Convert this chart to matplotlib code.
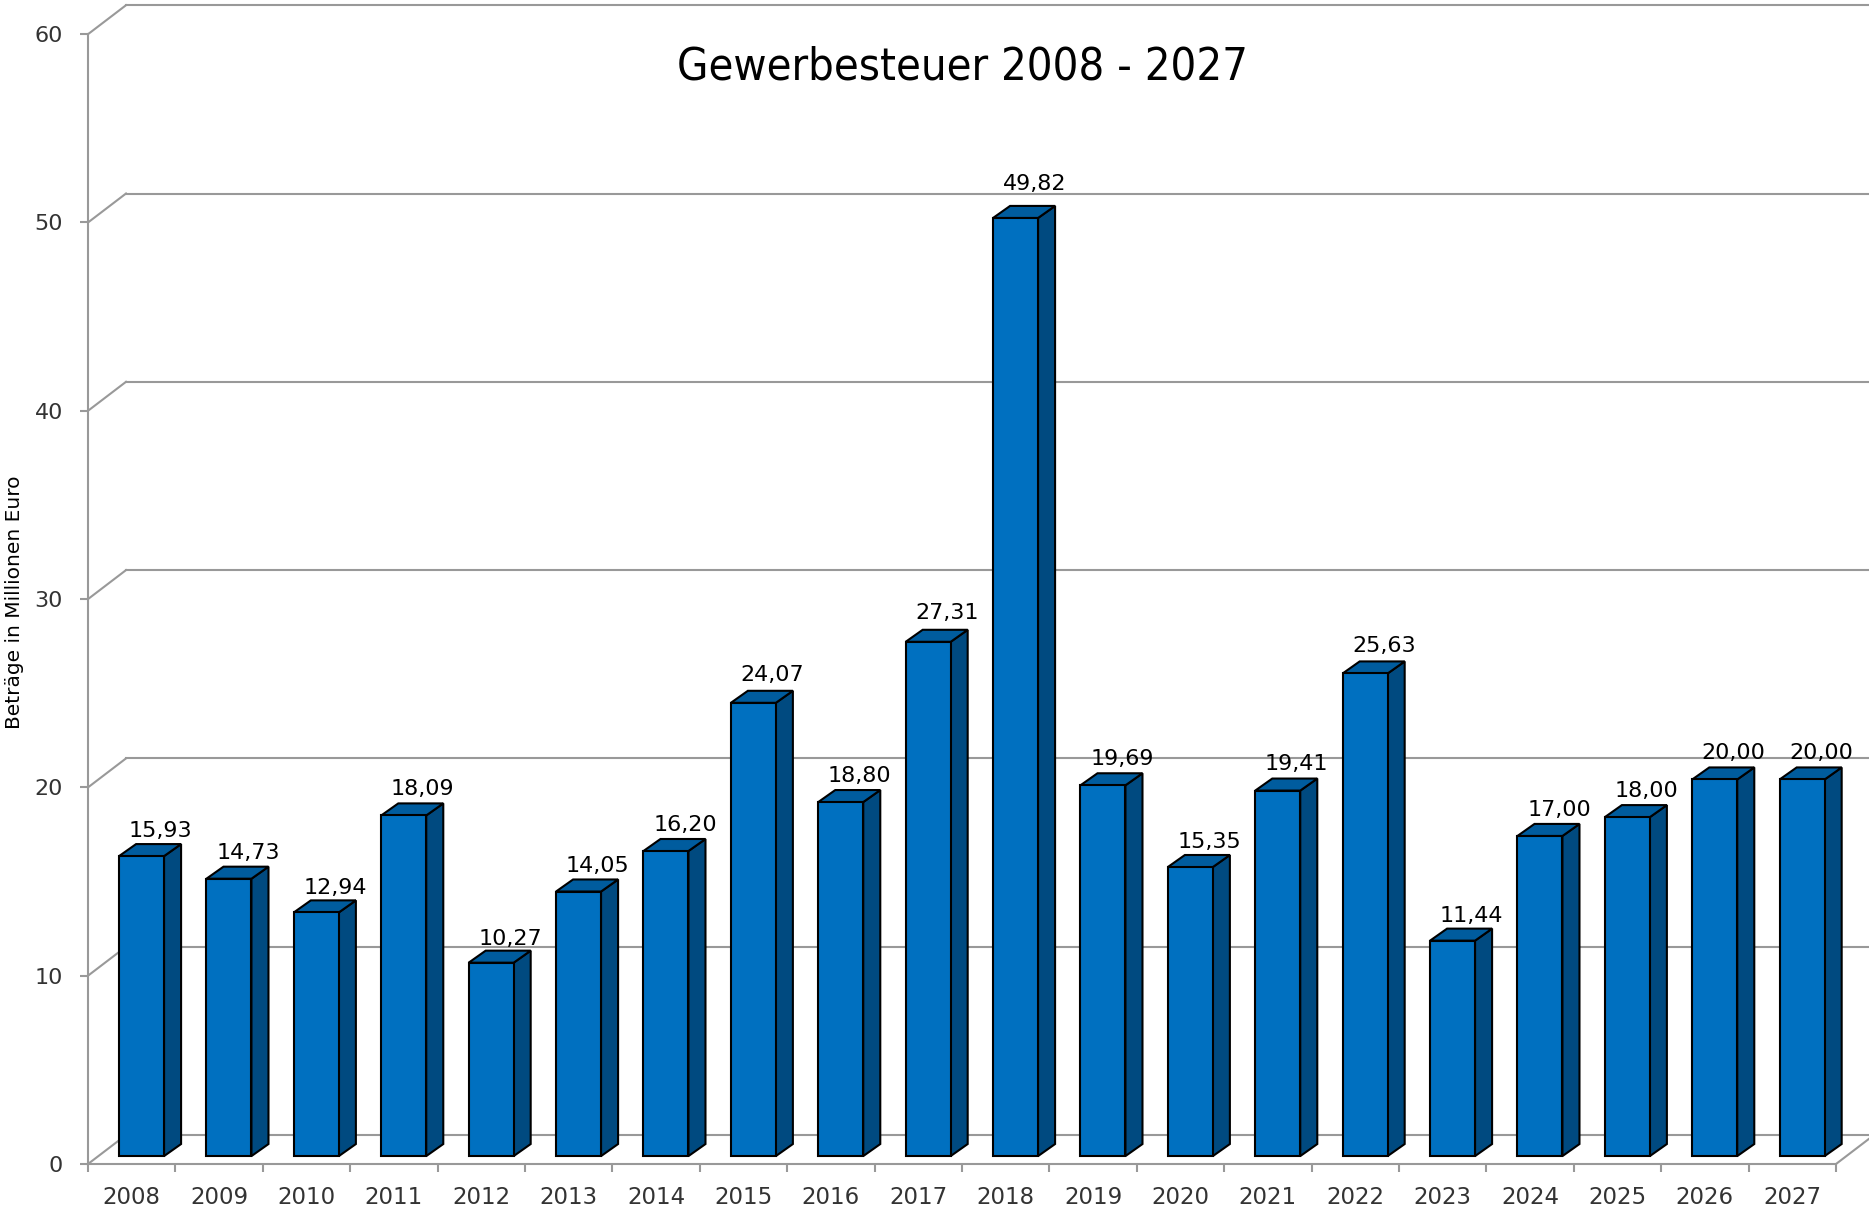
import matplotlib
matplotlib.use("Agg")
import matplotlib.pyplot as plt
from matplotlib.patches import Polygon

# data
years = [str(y) for y in range(2008, 2028)]
values = [15.93, 14.73, 12.94, 18.09, 10.27, 14.05, 16.20, 24.07, 18.80, 27.31,
          49.82, 19.69, 15.35, 19.41, 25.63, 11.44, 17.00, 18.00, 20.00, 20.00]
yticks = [0, 10, 20, 30, 40, 50, 60]

title = "Gewerbesteuer 2008 - 2027"
ylabel = "Beträge in Millionen Euro"

# colours
GRID = "#999999"
FRONT = "#0070C0"
SIDE = "#004A80"
TOP = "#005C9E"

# 3d-ish geometry in data units
DX, DY = 0.435, 1.54        # wall depth
OX, BW = 0.355, 0.515       # bar front-left offset and width
BASE = 0.42                 # bar base lift
BDX, BDY = 0.195, 0.64      # bar depth

W, H = 1869, 1212
fig = plt.figure(figsize=(W / 100, H / 100), dpi=100)
ax = fig.add_axes([0, 0, 1, 1])
ppc, ppu = 87.4, 18.83
ax.set_xlim(-88 / ppc, (W - 88) / ppc)
ax.set_ylim(-(H - 1164) / ppu, 1164 / ppu)

n = len(years)

# back wall gridlines and floor
for v in yticks:
    ax.plot([0, DX], [v, v + DY], color=GRID, lw=1.5, zorder=1)
    ax.plot([DX, n + DX + 1], [v + DY, v + DY], color=GRID, lw=1.5, zorder=1)
ax.plot([n, n + DX], [0, DY], color=GRID, lw=1.5, zorder=1)

# bars
for i, v in enumerate(values):
    x0 = i + OX
    b = BASE
    front = [(x0, b), (x0 + BW, b), (x0 + BW, b + v), (x0, b + v)]
    top = [(x0, b + v), (x0 + BW, b + v), (x0 + BW + BDX, b + v + BDY), (x0 + BDX, b + v + BDY)]
    side = [(x0 + BW, b), (x0 + BW + BDX, b + BDY), (x0 + BW + BDX, b + v + BDY), (x0 + BW, b + v)]
    for pts, col in [(side, SIDE), (top, TOP), (front, FRONT)]:
        ax.add_patch(Polygon(pts, closed=True, facecolor=col, edgecolor="black",
                             lw=1.5, joinstyle="miter", zorder=3))
    gap = 0.4 + 0.013 * (v - 16)
    ax.text(i + 0.83, b + v + BDY + gap, f"{v:.2f}".replace(".", ","),
            ha="center", va="baseline", fontsize=16, color="black", zorder=4)

# axes
for s in ["top", "right"]:
    ax.spines[s].set_visible(False)
ax.spines["left"].set_position(("data", 0))
ax.spines["bottom"].set_position(("data", 0))
ax.spines["left"].set_bounds(0, 60)
ax.spines["bottom"].set_bounds(0, n)
for s in ["left", "bottom"]:
    ax.spines[s].set_color(GRID)
    ax.spines[s].set_linewidth(1.5)
    ax.spines[s].set_zorder(2)

ax.set_yticks(yticks)
ax.set_xticks(range(n + 1))
ax.set_xticklabels([])
ax.set_xticks([i + 0.5 for i in range(n)], minor=True)
ax.set_xticklabels(years, minor=True)
ax.tick_params(axis="y", direction="out", length=6, width=1.5, color=GRID,
               labelsize=16, labelcolor="#333333", pad=12)
ax.tick_params(axis="x", which="major", direction="out", length=6, width=1.5, color=GRID)
ax.tick_params(axis="x", which="minor", length=0, labelsize=16.5, labelcolor="#333333", pad=16)

fig.text(962 / W, 1 - 67 / H, title, ha="center", va="center", fontsize=32.5,
         family="DejaVu Sans", fontstretch="condensed", color="black")
fig.text(15 / W, 1 - 602 / H, ylabel, rotation=90, ha="center", va="center",
         fontsize=14.5, color="black")

fig.savefig("out.png", dpi=100)
